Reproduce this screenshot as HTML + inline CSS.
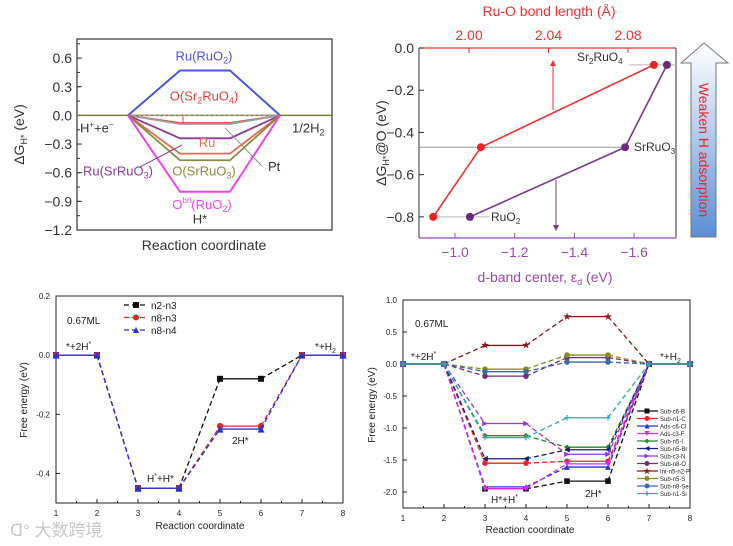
<!DOCTYPE html>
<html><head><meta charset="utf-8"><style>
html,body{margin:0;padding:0;background:#fff;}
svg{display:block;font-family:"Liberation Sans","Noto Sans CJK SC",sans-serif;}
</style></head><body>
<svg id="fig" width="733" height="546" viewBox="0 0 733 546" xmlns="http://www.w3.org/2000/svg">
<defs>
<linearGradient id="arrowGrad" x1="0" y1="0" x2="0" y2="1">
<stop offset="0" stop-color="#ffffff"/><stop offset="1" stop-color="#5b8fd6"/>
</linearGradient>
</defs>
<g id="pa"></g>
<g id="pb"></g>
<g id="pc"></g>
<g id="pd"></g>
<text x="10" y="536" font-size="17" fill="#c8c8c8">ᗡ° 大数跨境</text>
</svg>
<script>
// ---------- Panel A data ----------
const aNames = ["Ru(RuO2)","O(Sr2RuO4)","Pt","Ru(SrRuO3)","Ru","O(SrRuO3)","Obri(RuO2)"];
const aValues = [0.47,-0.08,-0.09,-0.24,-0.40,-0.47,-0.80];
const aColors = ["#4a55e8","#e8413c","#a0a0a0","#8a3c96","#e56a4e","#8a8a3a","#ee44ee"];
const aTicks = [0.6,0.3,0.0,-0.3,-0.6,-0.9,-1.2];
// ---------- Panel B data ----------
const bBond = [1.982,2.006,2.093];
const bDband = [-1.05,-1.57,-1.71];
const bG = [-0.80,-0.47,-0.08];
const bLeftTicks = [0.0,-0.2,-0.4,-0.6,-0.8];
const bTopTicks = [2.00,2.04,2.08];
const bBotTicks = [-1.0,-1.2,-1.4,-1.6];
// ---------- Panel C data ----------
const cX = [1,2,3,4,5,6,7,8];
const cN2n3 = [0,0,-0.45,-0.45,-0.08,-0.08,0,0];
const cN8n3 = [0,0,-0.45,-0.45,-0.24,-0.24,0,0];
const cN8n4 = [0,0,-0.45,-0.45,-0.25,-0.25,0,0];
const cYTicks = [0.2,0.0,-0.2,-0.4];
// ---------- Panel D data ----------
const dNames = ["Sub-c6-B","Sub-n1-C","Ads-c6-Cl","Ads-c3-F","Sub-n5-I","Sub-n5-Br","Sub-c3-N","Sub-n8-O","Int-n5-n2-P","Sub-n5-S","Sub-n8-Se","Sub-n1-Si"];
const dHH = [-1.95,-1.55,-1.92,-1.95,-1.12,-1.48,-0.93,-0.19,0.29,-0.08,-0.12,-1.15];
const d2H = [-1.83,-1.52,-1.61,-1.56,-1.30,-1.34,-1.41,0.10,0.74,0.14,0.03,-0.84];
const dColors = ["#111111","#ee2222","#2233ee","#ee22ee","#22882a","#1a1a7a","#9933ee","#7a2a7a","#8a1a1a","#8a8a22","#3a6aaa","#33aaaa"];
const dMarkers = ["sq","ci","tu","td","di","tl","tr","ci","st","ci","ci","pl"];
const dYTicks = [1.0,0.5,0.0,-0.5,-1.0,-1.5,-2.0];
const dXTicks = [1,2,3,4,5,6,7,8];

const NS="http://www.w3.org/2000/svg";
function mk(parent,tag,attrs,text){const e=document.createElementNS(NS,tag);for(const k in attrs)e.setAttribute(k,attrs[k]);if(text!==undefined)e.textContent=text;parent.appendChild(e);return e;}

// ================= Panel A =================
(function(){
const g=document.getElementById('pa');
const x0=77,x1=332,yt=39,yb=230;
const ya=v=>yt+(0.8-v)/2.0*(yb-yt);
let e=mk(g,'rect',{x:x0,y:yt,width:x1-x0,height:yb-yt,fill:'none',stroke:'#333','stroke-width':1.2});

aTicks.forEach(t=>{
 mk(g,'line',{x1:x0,x2:x0+5,y1:ya(t),y2:ya(t),stroke:'#333'});
 const tx=mk(g,'text',{x:x0-5,y:ya(t)+5,'font-size':14,'text-anchor':'end',fill:'#333'},(t<0?'\u2212':'')+Math.abs(t).toFixed(1));
 
});
for(let t=0.75;t>-1.2;t-=0.15){mk(g,'line',{x1:x0,x2:x0+3,y1:ya(t),y2:ya(t),stroke:'#333'});}
mk(g,'line',{x1:x0,x2:x1,y1:ya(0),y2:ya(0),stroke:'#7a7a30','stroke-width':1.5});
mk(g,'line',{x1:128,x2:280,y1:ya(0),y2:ya(0),stroke:'#aaa','stroke-dasharray':'3,2'});
const xs=[128,180,230,280];
aValues.forEach((v,i)=>{
 const pl=mk(g,'polyline',{points:`${xs[0]},${ya(0)} ${xs[1]},${ya(v)} ${xs[2]},${ya(v)} ${xs[3]},${ya(0)}`,fill:'none',stroke:aColors[i],'stroke-width':i==0||i==6?2:1.8});
 
});
const lab=(x,y,t,c,a)=>{const tx=mk(g,'text',{x:x,y:y,'font-size':13,fill:c,'text-anchor':a||'middle'});tx.innerHTML=t;return tx;};
lab(204,ya(aValues[0])-10,'Ru(RuO<tspan font-size="9" dy="3">2</tspan><tspan dy="-3">)</tspan>',aColors[0]);
lab(204,ya(0)-15,'O(Sr<tspan font-size="9" dy="3">2</tspan><tspan dy="-3">RuO</tspan><tspan font-size="9" dy="3">4</tspan><tspan dy="-3">)</tspan>',aColors[1]);
lab(207,ya(-0.33),'Ru',aColors[4]);
lab(204,ya(-0.63),'O(SrRuO<tspan font-size="9" dy="3">3</tspan><tspan dy="-3">)</tspan>',aColors[5]);
lab(202,ya(-0.98),'O<tspan font-size="8" dy="-6">bri</tspan><tspan dy="6">(RuO</tspan><tspan font-size="9" dy="3">2</tspan><tspan dy="-3">)</tspan>',aColors[6]);
lab(200,ya(-1.13),'H*','#333');
lab(118,ya(-0.63),'Ru(SrRuO<tspan font-size="9" dy="3">3</tspan><tspan dy="-3">)</tspan>',aColors[3]);
lab(80,ya(-0.18),'H<tspan font-size="8" dy="-5">+</tspan><tspan dy="5">+e</tspan><tspan font-size="8" dy="-5">\u2212</tspan>','#333','start');
lab(292,ya(-0.18),'1/2H<tspan font-size="9" dy="3">2</tspan>','#333','start');
lab(268,ya(-0.58),'Pt','#333','start');
mk(g,'line',{x1:225,y1:ya(-0.13),x2:262,y2:ya(-0.53),stroke:'#888'});
mk(g,'line',{x1:182,y1:ya(-0.31),x2:140,y2:ya(-0.54),stroke:'#8a3c96'});
mk(g,'line',{x1:183,y1:ya(-0.01),x2:183,y2:ya(-0.08),stroke:'#e8413c'});
let yl=mk(g,'text',{x:0,y:0,'font-size':14,fill:'#333','text-anchor':'middle',transform:`translate(24,${ya(-0.2)}) rotate(-90)`});
yl.innerHTML='\u0394G<tspan font-size="9" dy="3">H*</tspan><tspan dy="-3"> (eV)</tspan>';

let xl=mk(g,'text',{x:204,y:250,'font-size':14,fill:'#333','text-anchor':'middle'},'Reaction coordinate');

})();

// ================= Panel B =================
(function(){
const g=document.getElementById('pb');
const x0=419,x1=676,yt=48,yb=238;
const yb_=v=>yt+(0-v)/0.9*(yb-yt);
const xTop=v=>469+(v-2.00)/0.04*79.5;
const xBot=v=>455+(v-(-1.0))/(-0.2)*59.7;
mk(g,'line',{x1:x0,x2:x0,y1:yt,y2:yb,stroke:'#333'});
mk(g,'line',{x1:x1,x2:x1,y1:yt,y2:yb,stroke:'#333'});
mk(g,'line',{x1:x0,x2:x1,y1:yt,y2:yt,stroke:'#ee3333','stroke-width':1.3});
mk(g,'line',{x1:x0,x2:x1,y1:yb,y2:yb,stroke:'#9a4aaa','stroke-width':1.3});
bLeftTicks.forEach(t=>{
 mk(g,'line',{x1:x0,x2:x0+5,y1:yb_(t),y2:yb_(t),stroke:'#333'});
 const tx=mk(g,'text',{x:x0-5,y:yb_(t)+5,'font-size':14,'text-anchor':'end',fill:'#333'},(t<0?'\u2212':'')+Math.abs(t).toFixed(1));
 
});
bTopTicks.forEach(t=>{
 mk(g,'line',{x1:xTop(t),x2:xTop(t),y1:yt,y2:yt+5,stroke:'#ee3333'});
 const tx=mk(g,'text',{x:xTop(t),y:yt-8,'font-size':14,'text-anchor':'middle',fill:'#ee3333'},t.toFixed(2));
 
});
bBotTicks.forEach(t=>{
 mk(g,'line',{x1:xBot(t),x2:xBot(t),y1:yb,y2:yb-5,stroke:'#9a4aaa'});
 const tx=mk(g,'text',{x:xBot(t),y:yb+19,'font-size':14,'text-anchor':'middle',fill:'#9a4aaa'},'\u2212'+Math.abs(t).toFixed(1));
 
});
mk(g,'line',{x1:x0,x2:xBot(bDband[1]),y1:yb_(bG[1]),y2:yb_(bG[1]),stroke:'#999'});
mk(g,'line',{x1:xTop(bBond[0]),x2:xBot(bDband[0])+20,y1:yb_(bG[0]),y2:yb_(bG[0]),stroke:'#bbb'});
mk(g,'line',{x1:xTop(bBond[2])-25,x2:x1,y1:yb_(bG[2]),y2:yb_(bG[2]),stroke:'#bbb'});
const rpts=bBond.map((v,i)=>`${xTop(v)},${yb_(bG[i])}`).join(' ');
let l=mk(g,'polyline',{points:rpts,fill:'none',stroke:'#ee3333','stroke-width':1.6});

const ppts=bDband.map((v,i)=>`${xBot(v)},${yb_(bG[i])}`).join(' ');
l=mk(g,'polyline',{points:ppts,fill:'none',stroke:'#7a3a8a','stroke-width':1.6});

bBond.forEach((v,i)=>{const c=mk(g,'circle',{cx:xTop(v),cy:yb_(bG[i]),r:4,fill:'#ee2222'});});
bDband.forEach((v,i)=>{const c=mk(g,'circle',{cx:xBot(v),cy:yb_(bG[i]),r:4,fill:'#6a2a7a'});});
const lab=(x,y,t,c,a)=>{const tx=mk(g,'text',{x:x,y:y,'font-size':12,fill:c||'#333','text-anchor':a||'start'});tx.innerHTML=t;return tx;};
lab(577,yb_(bG[2])-4,'Sr<tspan font-size="8" dy="3">2</tspan><tspan dy="-3">RuO</tspan><tspan font-size="8" dy="3">4</tspan>');
lab(634,yb_(bG[1])+4,'SrRuO<tspan font-size="8" dy="3">3</tspan>');
lab(491,yb_(bG[0])+4,'RuO<tspan font-size="8" dy="3">2</tspan>');
mk(g,'line',{x1:553,x2:553,y1:110,y2:64,stroke:'#ee3333'});
mk(g,'path',{d:'M550,66 L553,60 L556,66 Z',fill:'#ee3333'});
mk(g,'line',{x1:556,x2:556,y1:180,y2:227,stroke:'#7a3a8a'});
mk(g,'path',{d:'M553,225 L556,231 L559,225 Z',fill:'#7a3a8a'});
let ar=mk(g,'path',{d:'M691,237 L691,63 L681,63 L704,43 L728,63 L716,63 L716,237 Z',fill:'url(#arrowGrad)',stroke:'#777','stroke-width':1});

let at=mk(g,'text',{x:0,y:0,'font-size':14,fill:'#ee2222','text-anchor':'middle',transform:'translate(699,150) rotate(90)'},'Weaken H adsorption');

let t1=mk(g,'text',{x:549,y:16,'font-size':14,fill:'#ee3333','text-anchor':'middle'},'Ru-O bond length (\u00c5)');

let t2=mk(g,'text',{x:545,y:282,'font-size':14,fill:'#9a4aaa','text-anchor':'middle'});
t2.innerHTML='d-band center, \u03b5<tspan font-size="9" dy="3">d</tspan><tspan dy="-3"> (eV)</tspan>';

let t3=mk(g,'text',{x:0,y:0,'font-size':14,fill:'#333','text-anchor':'middle',transform:'translate(386,143) rotate(-90)'});
t3.innerHTML='\u0394G<tspan font-size="9" dy="3">H*</tspan><tspan dy="-3">@O (eV)</tspan>';

})();

function profile(g,xf,yf,ys,color,marker,name,size){
 for(let i=0;i<cX.length-1;i++){
  const solid=(i%2===0);
  const ln=mk(g,'line',{x1:xf(cX[i]),y1:yf(ys[i]),x2:xf(cX[i+1]),y2:yf(ys[i+1]),stroke:color,'stroke-width':1.3,'stroke-dasharray':solid?'none':'5,3'});
  
 }
 ys.forEach((v,i)=>{drawMarker(g,marker,xf(cX[i]),yf(v),size,color,name);});
}
function drawMarker(g,m,x,y,s,c,name){
 let e;
 if(m==='sq')e=mk(g,'rect',{x:x-s,y:y-s,width:2*s,height:2*s,fill:c});
 else if(m==='ci')e=mk(g,'circle',{cx:x,cy:y,r:s,fill:c});
 else if(m==='tu')e=mk(g,'path',{d:`M${x},${y-s} L${x+s},${y+s} L${x-s},${y+s}Z`,fill:c});
 else if(m==='td')e=mk(g,'path',{d:`M${x},${y+s} L${x+s},${y-s} L${x-s},${y-s}Z`,fill:c});
 else if(m==='tl')e=mk(g,'path',{d:`M${x-s},${y} L${x+s},${y-s} L${x+s},${y+s}Z`,fill:c});
 else if(m==='tr')e=mk(g,'path',{d:`M${x+s},${y} L${x-s},${y-s} L${x-s},${y+s}Z`,fill:c});
 else if(m==='di')e=mk(g,'path',{d:`M${x},${y-s} L${x+s},${y} L${x},${y+s} L${x-s},${y}Z`,fill:c});
 else if(m==='st')e=mk(g,'text',{x:x,y:y+s,'font-size':s*3,'text-anchor':'middle',fill:c},'\u2605');
 else e=mk(g,'path',{d:`M${x-s},${y} H${x+s} M${x},${y-s} V${y+s}`,stroke:c,'stroke-width':1.2});
 
}
function frame(g,x0,x1,yt,yb,yf,yticks,xf,name,dec){
 const r=mk(g,'rect',{x:x0,y:yt,width:x1-x0,height:yb-yt,fill:'none',stroke:'#222','stroke-width':1});
 
 yticks.forEach(t=>{mk(g,'line',{x1:x0,x2:x0+4,y1:yf(t),y2:yf(t),stroke:'#222'});
  const tx=mk(g,'text',{x:x0-6,y:yf(t)+3,'font-size':8,'text-anchor':'end',fill:'#222'},t.toFixed(dec));
  });
 dXTicks.forEach(t=>{mk(g,'line',{x1:xf(t),x2:xf(t),y1:yb,y2:yb-4,stroke:'#222'});
  if(t<8)mk(g,'line',{x1:xf(t+0.5),x2:xf(t+0.5),y1:yb,y2:yb-2,stroke:'#222'});
  const tx=mk(g,'text',{x:xf(t),y:yb+13,'font-size':8,'text-anchor':'middle',fill:'#222'},String(t));
  });
}
function txt(g,x,y,html,size,name,anchor){const t=mk(g,'text',{x:x,y:y,'font-size':size,fill:'#222','text-anchor':anchor||'start'});t.innerHTML=html;return t;}

// ================= Panel C =================
(function(){
const g=document.getElementById('pc');
const x0=56,x1=343,yt=296,yb=503;
const xf=v=>x0+(v-1)*41;
const yf=v=>yt+(0.2-v)/0.7*(yb-yt);
frame(g,x0,x1,yt,yb,yf,cYTicks,xf,'panel-c',1);
profile(g,xf,yf,cN2n3,'#111','sq','n2-n3',3);
profile(g,xf,yf,cN8n3,'#ee2222','ci','n8-n3',3.2);
profile(g,xf,yf,cN8n4,'#2233dd','tu','n8-n4',3.5);
const leg=[['n2-n3','#111','sq'],['n8-n3','#ee2222','ci'],['n8-n4','#2233dd','tu']];
leg.forEach((l,i)=>{const y=305+i*12.5;
 const ln=mk(g,'line',{x1:124,x2:148,y1:y,y2:y,stroke:l[1],'stroke-width':1.3,'stroke-dasharray':'5,3'});
 
 drawMarker(g,l[2],136,y,3,l[1],'panel-c-legend');
 txt(g,151,y+4,l[0],10,'panel-c-legend-entry');});
txt(g,67,324,'0.67ML',10,'coverage-label');
txt(g,66,350,'*+2H<tspan font-size="7" dy="-4">*</tspan>',10,'state-label');
txt(g,315,350,'*+H<tspan font-size="7" dy="3">2</tspan>',10,'state-label');
txt(g,147,482,'H<tspan font-size="7" dy="-4">*</tspan><tspan dy="4">+H*</tspan>',10,'state-label');
txt(g,232,444,'2H*',10,'state-label');
txt(g,200,529,'Reaction coordinate',10,'panel-c-x-title','middle');
const yl=mk(g,'text',{x:0,y:0,'font-size':10,fill:'#222','text-anchor':'middle',transform:'translate(27,400) rotate(-90)'},'Free energy (eV)');

})();

// ================= Panel D =================
(function(){
const g=document.getElementById('pd');
const x0=403,x1=690,yt=300,yb=508;
const xf=v=>x0+(v-1)*41;
const yf=v=>yt+(1.0-v)/3.25*(yb-yt);
frame(g,x0,x1,yt,yb,yf,dYTicks,xf,'panel-d',1);
dNames.forEach((n,i)=>{
 const ys=[0,0,dHH[i],dHH[i],d2H[i],d2H[i],0,0];
 profile(g,xf,yf,ys,dColors[i],dMarkers[i],n,2.8);
});
dNames.forEach((n,i)=>{const y=411+i*7.5;
 const ln=mk(g,'line',{x1:637,x2:658,y1:y,y2:y,stroke:dColors[i],'stroke-width':1.3});
 
 drawMarker(g,dMarkers[i],647,y,2.5,dColors[i],'panel-d-legend');
 txt(g,660,y+2.5,n,6,'panel-d-legend-entry');});
txt(g,415,327,'0.67ML',10,'coverage-label');
txt(g,411,360,'*+2H<tspan font-size="7" dy="-4">*</tspan>',10,'state-label');
txt(g,660,360,'*+H<tspan font-size="7" dy="3">2</tspan>',10,'state-label');
txt(g,491,503,'H*+H<tspan font-size="7" dy="-4">*</tspan>',10,'state-label');
txt(g,585,497,'2H*',10,'state-label');
txt(g,530,533,'Reaction coordinate',10,'panel-d-x-title','middle');
const yl=mk(g,'text',{x:0,y:0,'font-size':10,fill:'#222','text-anchor':'middle',transform:'translate(375,405) rotate(-90)'},'Free energy (eV)');

})();
</script>
</body></html>
